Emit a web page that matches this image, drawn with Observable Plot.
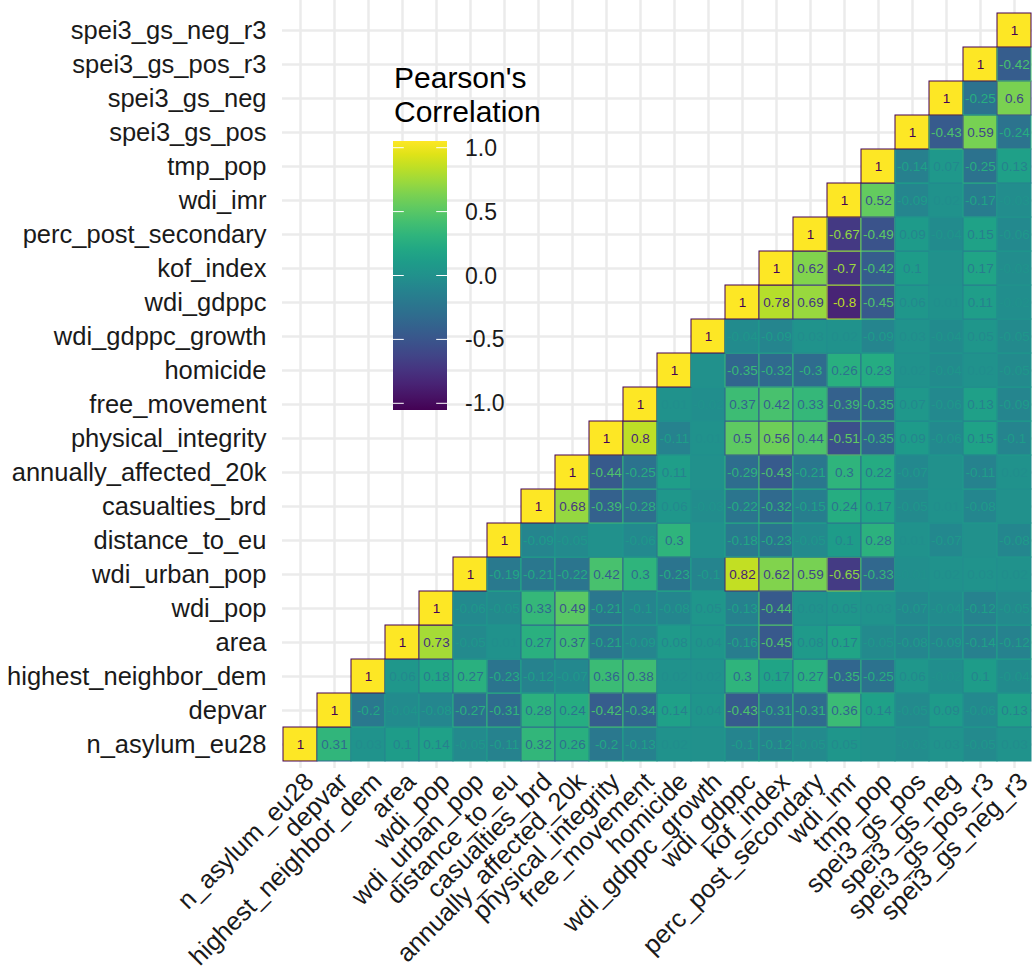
<!DOCTYPE html>
<html><head><meta charset="utf-8">
<script src="https://cdn.jsdelivr.net/npm/d3@7"></script>
<script src="https://cdn.jsdelivr.net/npm/@observablehq/plot@0.6"></script>
<style>
body{margin:0;background:#fff;}
#chart{position:relative;width:1032px;height:974px;}
</style></head><body><div id="chart"></div>
<script>
const vars = ["n_asylum_eu28","depvar","highest_neighbor_dem","area","wdi_pop","wdi_urban_pop","distance_to_eu","casualties_brd","annually_affected_20k","physical_integrity","free_movement","homicide","wdi_gdppc_growth","wdi_gdppc","kof_index","perc_post_secondary","wdi_imr","tmp_pop","spei3_gs_pos","spei3_gs_neg","spei3_gs_pos_r3","spei3_gs_neg_r3"];

// each row: correlations of that variable with itself and all later variables
const r_n_asylum_eu28 = [1, 0.31, 0.03, 0.1, 0.14, -0.05, -0.11, 0.32, 0.26, -0.2, -0.13, 0.02, 0, -0.1, -0.12, -0.05, 0.05, 0, -0.03, 0.03, -0.05, 0.03];
const r_depvar = [1, -0.2, -0.04, -0.08, -0.27, -0.31, 0.28, 0.24, -0.42, -0.34, 0.14, 0.04, -0.43, -0.31, -0.31, 0.36, 0.14, -0.05, 0.09, -0.06, 0.13];
const r_highest_neighbor_dem = [1, 0.06, 0.18, 0.27, -0.23, -0.12, -0.07, 0.36, 0.38, 0.02, 0.02, 0.3, 0.17, 0.27, -0.35, -0.25, 0.06, -0.02, 0.1, -0.04];
const r_area = [1, 0.73, -0.05, 0.01, 0.27, 0.37, -0.21, -0.09, 0.08, 0.04, -0.16, -0.45, 0.08, 0.17, -0.05, -0.08, -0.09, -0.14, -0.12];
const r_wdi_pop = [1, -0.06, -0.05, 0.33, 0.49, -0.21, -0.1, -0.08, 0.05, -0.13, -0.44, 0.03, 0.05, 0.03, -0.07, -0.04, -0.12, -0.05];
const r_wdi_urban_pop = [1, -0.19, -0.21, -0.22, 0.42, 0.3, -0.23, -0.1, 0.82, 0.62, 0.59, -0.65, -0.33, -0.01, 0.02, 0.03, 0.02];
const r_distance_to_eu = [1, -0.09, -0.05, 0, -0.06, 0.3, 0, -0.18, -0.23, -0.05, 0.1, 0.28, 0.01, -0.07, 0, -0.08];
const r_casualties_brd = [1, 0.68, -0.39, -0.28, 0.06, -0.03, -0.22, -0.32, -0.15, 0.24, 0.17, -0.05, 0.01, -0.08, 0];
const r_annually_affected_20k = [1, -0.44, -0.25, 0.11, 0, -0.29, -0.43, -0.21, 0.3, 0.22, -0.07, 0, -0.11, 0.02];
const r_physical_integrity = [1, 0.8, -0.11, 0.01, 0.5, 0.56, 0.44, -0.51, -0.35, 0.09, -0.06, 0.15, -0.1];
const r_free_movement = [1, 0.01, -0.02, 0.37, 0.42, 0.33, -0.39, -0.35, 0.07, -0.06, 0.13, -0.09];
const r_homicide = [1, 0, -0.35, -0.32, -0.3, 0.26, 0.23, 0.02, -0.04, 0.02, -0.05];
const r_wdi_gdppc_growth = [1, -0.04, -0.09, 0.03, 0.02, -0.09, 0.03, -0.04, 0.05, -0.05];
const r_wdi_gdppc = [1, 0.78, 0.69, -0.8, -0.45, 0.06, 0.01, 0.11, -0.02];
const r_kof_index = [1, 0.62, -0.7, -0.42, 0.1, 0, 0.17, -0.03];
const r_perc_post_secondary = [1, -0.67, -0.49, 0.09, -0.04, 0.15, -0.06];
const r_wdi_imr = [1, 0.52, -0.09, 0.02, -0.17, -0.03];
const r_tmp_pop = [1, -0.14, 0.07, -0.25, 0.13];
const r_spei3_gs_pos = [1, -0.43, 0.59, -0.24];
const r_spei3_gs_neg = [1, -0.25, 0.6];
const r_spei3_gs_pos_r3 = [1, -0.42];
const r_spei3_gs_neg_r3 = [1];

const legendBreaks = [1, 0.5, 0, -0.5, -1];
const legendLabels = ["1.0", "0.5", "0.0", "-0.5", "-1.0"];
const legendTitle = ["Pearson's", "Correlation"];

const rowValues = [r_n_asylum_eu28, r_depvar, r_highest_neighbor_dem, r_area, r_wdi_pop, r_wdi_urban_pop, r_distance_to_eu, r_casualties_brd, r_annually_affected_20k, r_physical_integrity, r_free_movement, r_homicide, r_wdi_gdppc_growth, r_wdi_gdppc, r_kof_index, r_perc_post_secondary, r_wdi_imr, r_tmp_pop, r_spei3_gs_pos, r_spei3_gs_neg, r_spei3_gs_pos_r3, r_spei3_gs_neg_r3];

const cells = [];
rowValues.forEach((vals, i) => vals.forEach((v, k) => cells.push({row: vars[i], col: vars[i + k], value: v})));

const font = "'Liberation Sans', Arial, Helvetica, sans-serif";
const grid = "#ebebeb";
const axisSize = 25.5;

const plot = Plot.plot({
  width: 1032, height: 974,
  marginLeft: 282, marginRight: 0, marginTop: 12, marginBottom: 212,
  style: {fontFamily: font, background: "white", overflow: "visible"},
  x: {type: "band", domain: vars, padding: 0, axis: null},
  y: {type: "band", domain: vars.slice().reverse(), padding: 0, axis: null},
  color: {type: "linear", scheme: "viridis", domain: [-1, 1]},
  marks: [
    Plot.ruleX(vars, {x: d => d, stroke: grid, strokeWidth: 2.5, insetTop: -12, insetBottom: -6}),
    Plot.ruleY(vars, {y: d => d, stroke: grid, strokeWidth: 2.5}),
    Plot.cell(cells, {x: "col", y: "row", fill: "value", stroke: d => -d.value, strokeWidth: 1}),
    Plot.text(cells, {x: "col", y: "row", text: d => String(d.value), fill: d => -d.value, fontSize: 13.5}),
    Plot.text(vars, {y: d => d, frameAnchor: "left", dx: -16, textAnchor: "end", fontSize: axisSize, fill: "#1a1a1a"}),
    Plot.text(vars, {x: d => d, frameAnchor: "bottom", dx: 2, dy: 8, rotate: -45, textAnchor: "end", lineAnchor: "top", fontSize: axisSize, fill: "#1a1a1a"})
  ]
});

// vertical colour bar legend
const svg = d3.select(plot);
const barX = 393, barY = 141, barW = 54, barH = 269, pad = 6.7;
const grad = svg.append("defs").append("linearGradient").attr("id", "vir").attr("x1", 0).attr("y1", 1).attr("x2", 0).attr("y2", 0);
d3.range(0, 1.0001, 0.05).forEach(t => grad.append("stop").attr("offset", t).attr("stop-color", d3.interpolateViridis(t)));
const lg = svg.append("g").attr("font-family", font).attr("text-anchor", "start");
lg.append("rect").attr("x", barX).attr("y", barY).attr("width", barW).attr("height", barH).attr("fill", "url(#vir)");
const yPos = b => barY + pad + (1 - (b + 1) / 2) * (barH - 2 * pad);
legendBreaks.forEach((b, i) => {
  const y = yPos(b);
  lg.append("line").attr("x1", barX).attr("x2", barX + barW / 5).attr("y1", y).attr("y2", y).attr("stroke", "white").attr("stroke-width", 1);
  lg.append("line").attr("x1", barX + barW - barW / 5).attr("x2", barX + barW).attr("y1", y).attr("y2", y).attr("stroke", "white").attr("stroke-width", 1);
  lg.append("text").attr("x", barX + barW + 18).attr("y", y).attr("dy", "0.35em").attr("font-size", 23).attr("fill", "#1a1a1a").attr("text-anchor", "start").text(legendLabels[i]);
});
legendTitle.forEach((t, i) => lg.append("text").attr("x", barX + 1).attr("y", 88 + i * 34).attr("font-size", 30).attr("fill", "black").attr("text-anchor", "start").text(t));

document.getElementById("chart").appendChild(plot);
</script></body></html>
